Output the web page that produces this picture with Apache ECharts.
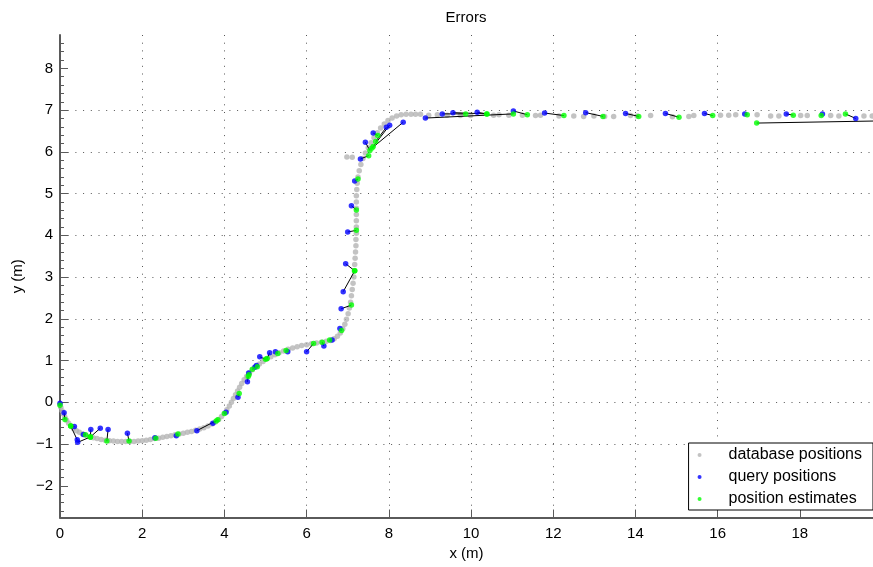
<!DOCTYPE html>
<html>
<head>
<meta charset="utf-8">
<title>Errors</title>
<script src="https://cdn.jsdelivr.net/npm/echarts@6/dist/echarts.min.js"></script>
<style>
  html, body { margin: 0; padding: 0; background: #fff; }
  #chart { width: 873px; height: 567px; }
</style>
</head>
<body>
<div id="chart"></div>
<script>
// Database trajectory (m)
const dbX = [0.00,0.02,0.05,0.08,0.12,0.16,0.21,0.27,0.33,0.40,0.47,0.55,0.63,0.72,0.81,0.90,1.00,1.10,1.20,1.30,1.40,1.50,1.60,1.70,1.80,1.90,2.00,2.10,2.20,2.30,2.40,2.50,2.60,2.70,2.80,2.90,3.00,3.10,3.20,3.30,3.40,3.50,3.60,3.70,3.78,3.86,3.93,4.00,4.06,4.12,4.17,4.22,4.27,4.32,4.37,4.42,4.48,4.54,4.61,4.68,4.76,4.85,4.94,5.03,5.13,5.23,5.33,5.44,5.55,5.66,5.77,5.88,6.00,6.12,6.24,6.36,6.48,6.58,6.67,6.75,6.82,6.88,6.93,6.97,7.01,7.04,7.07,7.09,7.11,7.13,7.15,7.16,7.17,7.18,7.19,7.20,7.20,7.21,7.21,7.21,7.21,7.21,7.21,7.21,7.22,7.23,7.25,7.28,7.32,7.37,7.43,7.50,7.57,7.64,7.72,7.80,7.89,7.98,8.08,8.19,8.30,8.42,8.54,8.65,8.77,8.97,9.18,9.42,9.74,9.99,10.55,10.68,10.92,11.25,11.57,11.69,12.14,12.50,12.74,12.99,13.25,13.47,13.88,14.04,14.37,14.90,15.30,15.42,16.07,16.27,16.44,16.96,17.29,17.49,18.02,18.18,18.75,18.95,19.56,19.76,6.98,7.11];
const dbY = [-0.05,-0.12,-0.20,-0.28,-0.36,-0.43,-0.50,-0.57,-0.63,-0.68,-0.72,-0.76,-0.79,-0.82,-0.85,-0.87,-0.89,-0.91,-0.92,-0.93,-0.94,-0.94,-0.94,-0.94,-0.94,-0.93,-0.92,-0.91,-0.89,-0.87,-0.86,-0.84,-0.82,-0.80,-0.78,-0.76,-0.74,-0.72,-0.70,-0.67,-0.64,-0.61,-0.57,-0.52,-0.47,-0.41,-0.34,-0.26,-0.18,-0.09,0.00,0.09,0.18,0.27,0.36,0.45,0.54,0.62,0.70,0.78,0.85,0.92,0.98,1.04,1.09,1.14,1.19,1.23,1.27,1.30,1.33,1.36,1.38,1.40,1.42,1.44,1.46,1.48,1.52,1.58,1.66,1.76,1.87,1.99,2.12,2.26,2.40,2.55,2.70,2.85,3.00,3.15,3.30,3.45,3.60,3.75,3.90,4.05,4.20,4.35,4.50,4.65,4.80,4.95,5.10,5.25,5.40,5.55,5.70,5.84,5.97,6.10,6.22,6.34,6.46,6.57,6.67,6.75,6.81,6.86,6.89,6.90,6.90,6.90,6.90,6.88,6.89,6.88,6.87,6.87,6.88,6.89,6.88,6.88,6.87,6.88,6.86,6.86,6.85,6.86,6.85,6.85,6.87,6.86,6.87,6.84,6.85,6.87,6.88,6.88,6.89,6.89,6.86,6.86,6.87,6.87,6.87,6.86,6.86,6.86,5.88,5.87];

// Query positions (m)
const qX = [0.00,0.10,0.35,0.42,0.43,0.57,0.75,0.98,1.17,1.64,2.31,2.83,3.33,3.72,4.04,4.33,4.56,4.59,4.74,4.78,4.86,5.10,5.24,5.54,6.00,6.42,6.62,6.81,6.84,6.89,6.95,7.00,7.09,7.17,7.31,7.43,7.62,7.94,8.02,8.35,8.89,9.30,9.56,10.15,11.03,11.79,12.79,13.76,14.73,15.68,16.66,21.60,17.67,18.55,19.36];
const qY = [-0.02,-0.25,-0.58,-0.90,-0.96,-0.77,-0.65,-0.62,-0.65,-0.74,-0.85,-0.80,-0.68,-0.50,-0.24,0.12,0.49,0.70,0.84,0.88,1.09,1.19,1.21,1.21,1.21,1.35,1.49,1.77,2.24,2.65,3.32,4.08,4.71,5.30,5.83,6.23,6.45,6.59,6.64,6.71,6.81,6.91,6.94,6.95,6.98,6.93,6.94,6.92,6.92,6.92,6.91,6.77,6.91,6.91,6.80];

// Position estimates (m), one per query
const eX = [0.00,0.12,0.26,0.26,0.74,0.62,0.74,0.74,1.14,1.68,2.33,2.87,3.84,3.80,4.00,4.36,4.58,4.60,4.68,4.80,5.00,5.04,5.30,5.50,6.17,6.38,6.56,6.85,7.09,7.17,7.17,7.21,7.21,7.25,7.51,7.54,7.73,7.68,7.62,7.59,11.03,9.87,10.39,10.38,11.37,12.26,13.21,14.08,15.06,15.88,16.72,16.95,17.84,18.52,19.11];
const eY = [-0.07,-0.41,-0.57,-0.57,-0.83,-0.78,-0.83,-0.83,-0.93,-0.93,-0.86,-0.76,-0.42,-0.45,-0.27,0.21,0.62,0.66,0.79,0.85,1.03,1.05,1.17,1.24,1.41,1.44,1.49,1.72,2.33,3.15,3.15,4.12,4.61,5.35,5.91,6.03,6.39,6.25,6.13,6.09,6.91,6.91,6.91,6.91,6.89,6.87,6.85,6.85,6.83,6.87,6.89,6.69,6.88,6.87,6.91];

// Axis ticks
const xTicks = [0, 2, 4, 6, 8, 10, 12, 14, 16, 18];
const yTicks = [-2, -1, 0, 1, 2, 3, 4, 5, 6, 7, 8];

const FONT = "'Liberation Sans', Arial, Helvetica, sans-serif";
const AXIS_COLOR = '#5a5a5a';
const X_MIN = 0, X_MAX = 19.78, Y_MIN = -2.76, Y_MAX = 8.8;

// Minor y ticks: four subdivisions between each labelled tick
const yMinor = [];
for (let v = yTicks[0] - 1; v <= yTicks[yTicks.length - 1]; v++) {
  for (let k = 1; k < 5; k++) {
    const m = Math.round((v + k * 0.2) * 10) / 10;
    if (m > Y_MIN && m < Y_MAX) yMinor.push(m);
  }
}

// typographic minus for negative tick labels
const fmtTick = v => String(v).replace('-', '\u2212');

const gridDots = { color: '#555', width: 1, type: [1, 6.7] };

const chart = echarts.init(document.getElementById('chart'), null, { renderer: 'canvas' });
chart.setOption({
  animation: false,
  backgroundColor: '#fff',
  title: {
    text: 'Errors',
    left: 466,
    top: 10,
    padding: 0,
    textAlign: 'center',
    textStyle: { fontFamily: FONT, fontSize: 15, fontWeight: 'normal', color: '#000' }
  },
  grid: { left: 60, right: 0, top: 35, bottom: 49.5, containLabel: false },
  xAxis: {
    type: 'value',
    min: X_MIN,
    max: X_MAX,
    interval: 2,
    name: 'x (m)',
    nameLocation: 'middle',
    nameGap: 28,
    nameTextStyle: { fontFamily: FONT, fontSize: 15, color: '#000' },
    axisLine: { show: true, onZero: false, lineStyle: { color: AXIS_COLOR, width: 2 } },
    axisTick: { show: true, inside: true, length: 8, customValues: xTicks, lineStyle: { color: AXIS_COLOR, width: 1 } },
    axisLabel: { customValues: xTicks, margin: 9, fontFamily: FONT, fontSize: 15, color: '#000', formatter: fmtTick },
    splitLine: { show: true, showMinLine: false, showMaxLine: false, lineStyle: gridDots }
  },
  yAxis: [{
    type: 'value',
    min: Y_MIN,
    max: Y_MAX,
    splitNumber: 11,
    name: 'y (m)',
    nameLocation: 'middle',
    nameGap: 32,
    nameRotate: 90,
    nameTextStyle: { fontFamily: FONT, fontSize: 15, color: '#000' },
    axisLine: { show: true, onZero: false, lineStyle: { color: AXIS_COLOR, width: 2 } },
    axisTick: { show: true, inside: true, length: 8, customValues: yTicks, lineStyle: { color: AXIS_COLOR, width: 1 } },
    axisLabel: { customValues: yTicks, margin: 7, fontFamily: FONT, fontSize: 15, color: '#000', formatter: fmtTick },
    splitLine: { show: true, showMinLine: false, showMaxLine: false, lineStyle: gridDots }
  }, {
    // minor tick marks only
    type: 'value',
    min: Y_MIN,
    max: Y_MAX,
    position: 'left',
    offset: 0,
    axisLine: { show: false },
    axisLabel: { show: false },
    splitLine: { show: false },
    axisTick: { show: true, inside: true, length: 4, customValues: yMinor, lineStyle: { color: AXIS_COLOR, width: 1 } }
  }],
  legend: {
    orient: 'vertical',
    right: 0,
    bottom: 57,
    padding: [4, 11, 3, 9],
    itemGap: 6,
    itemWidth: 48,
    itemHeight: 4,
    icon: 'circle',
    backgroundColor: '#fff',
    borderColor: '#000',
    borderWidth: 1,
    borderRadius: 0,
    selectedMode: false,
    textStyle: { fontFamily: FONT, fontSize: 16, color: '#000' },
    data: ['database positions', 'query positions', 'position estimates']
  },
  series: [
    {
      name: 'database positions',
      type: 'scatter',
      symbol: 'circle',
      symbolSize: 5.5,
      itemStyle: { color: '#b4b4b4' },
      data: dbX.map((x, i) => [x, dbY[i]]),
      z: 2,
      silent: true
    },
    {
      name: 'errors',
      type: 'custom',
      clip: true,
      silent: true,
      z: 3,
      encode: { x: [0, 2], y: [1, 3] },
      data: qX.map((x, i) => [x, qY[i], eX[i], eY[i]]),
      renderItem: function (params, api) {
        const a = api.coord([api.value(0), api.value(1)]);
        const b = api.coord([api.value(2), api.value(3)]);
        return {
          type: 'line',
          shape: { x1: a[0], y1: a[1], x2: b[0], y2: b[1] },
          style: { stroke: '#000', lineWidth: 1 }
        };
      }
    },
    {
      name: 'query positions',
      type: 'scatter',
      symbol: 'circle',
      symbolSize: 5.5,
      itemStyle: { color: '#0000ff' },
      data: qX.map((x, i) => [x, qY[i]]),
      z: 4,
      silent: true
    },
    {
      name: 'position estimates',
      type: 'scatter',
      symbol: 'circle',
      symbolSize: 5.5,
      itemStyle: { color: '#00ff00' },
      data: eX.map((x, i) => [x, eY[i]]),
      z: 5,
      silent: true
    }
  ]
});
</script>
</body>
</html>
